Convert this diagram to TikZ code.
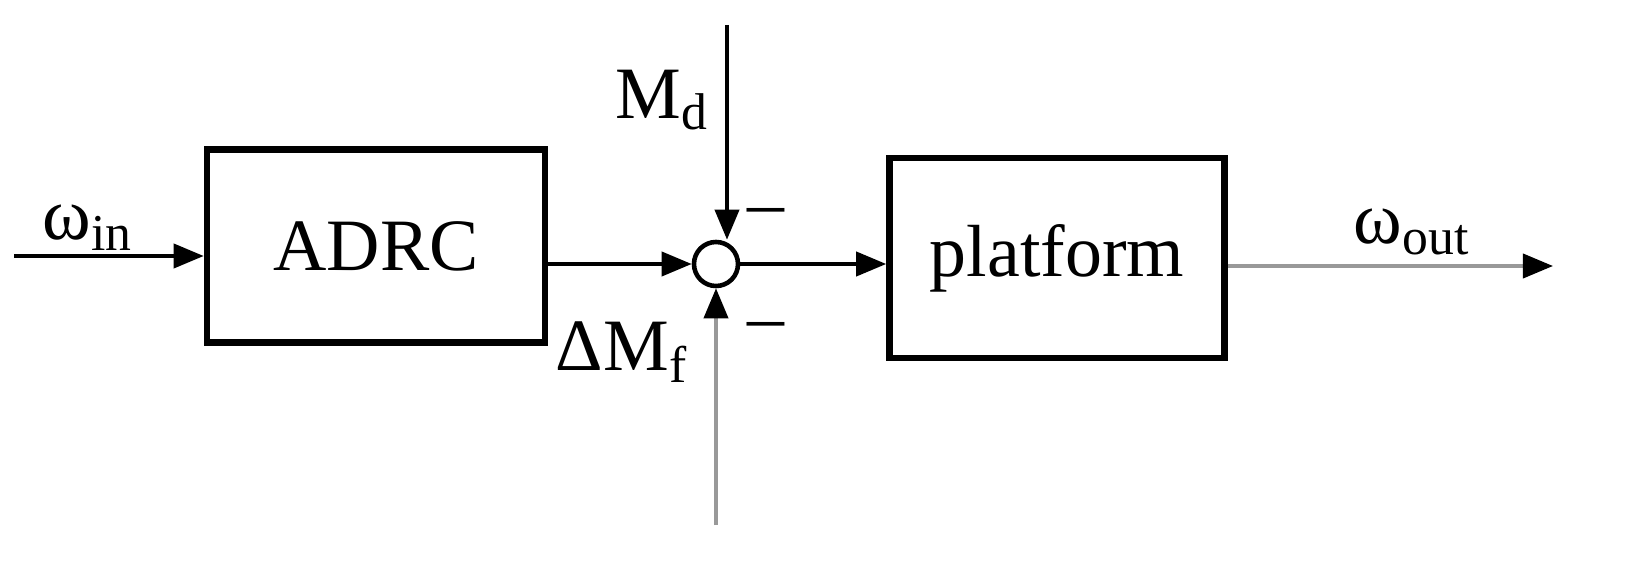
\documentclass[tikz,border=0pt]{standalone}
\usepackage{fontspec}
\setmainfont{Liberation Serif}
\usetikzlibrary{arrows.meta}
\begin{document}
\begin{tikzpicture}[x=0.01cm,y=-0.01cm,
  blk/.style={draw,line width=1.8pt,minimum width=3.38cm,minimum height=1.93cm,font=\fontsize{21}{24}\selectfont},
  lbl/.style={font=\fontsize{21}{24}\selectfont},
  arr/.style={line width=1.1pt,-{Triangle[length=0.3cm,width=0.24cm]}},
  garr/.style={line width=1.1pt,draw=gray!80,-{Triangle[length=0.3cm,width=0.24cm,fill=black,color=black]}}]
\useasboundingbox (0,0) rectangle (1648,573);
\node[blk] (adrc) at (376,246) {ADRC};
\node[blk,minimum width=3.35cm,minimum height=2.0cm] (plat) at (1057,258) {platform};
\node[draw,circle,line width=1.3pt,minimum size=0.44cm,inner sep=0] (sum) at (716,264) {};
\coordinate (in) at (14,256);
\coordinate (md) at (727,25);
\coordinate (mf) at (716,525);
\coordinate (out) at (1553,266);
\draw[arr] (in) -- (in -| adrc.west);
\draw[arr] (adrc.east |- sum) -- (sum.west);
\draw[arr] (md) -- (md |- sum.north);
\draw[garr] (mf) -- (sum.south);
\draw[arr] (sum.east) -- (sum -| plat.west);
\draw[garr] (out -| plat.east) -- (out);
\node[lbl] (l1) at (88,228) {ω\textsubscript{in}};
\node[lbl] (l2) at (662,100) {M\textsubscript{d}};
\node[lbl] (l3) at (622,352) {ΔM\textsubscript{f}};
\node[lbl] (l4) at (1412,232) {ω\textsubscript{out}};
\node[lbl] (m1) at (766,218) {–};
\node[lbl] (m2) at (766,332) {–};
\end{tikzpicture}
\end{document}
